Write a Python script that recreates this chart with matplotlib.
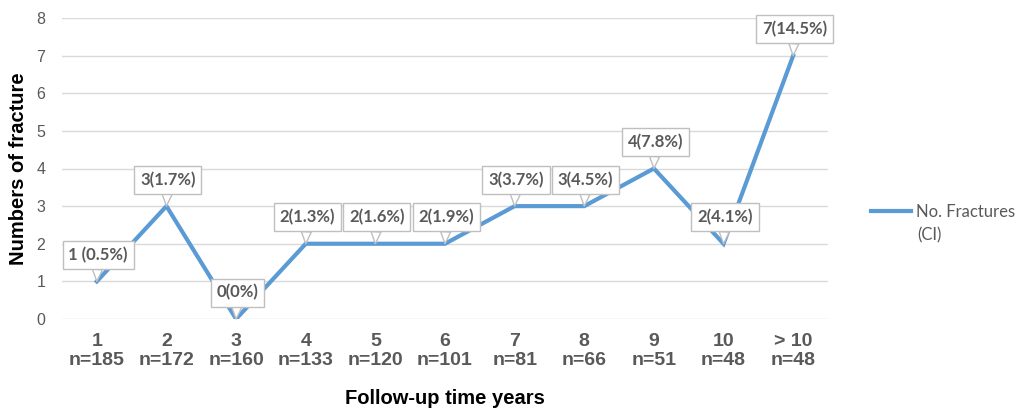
import matplotlib.pyplot as plt

years = ["1", "2", "3", "4", "5", "6", "7", "8", "9", "10", "> 10"]
n_at_risk = [185, 172, 160, 133, 120, 101, 81, 66, 51, 48, 48]
fractures = [1, 3, 0, 2, 2, 2, 3, 3, 4, 2, 7]
labels = ["1 (0.5%)", "3(1.7%)", "0(0%)", "2(1.3%)", "2(1.6%)", "2(1.9%)",
          "3(3.7%)", "3(4.5%)", "4(7.8%)", "2(4.1%)", "7(14.5%)"]

grey = "#595959"
blue = "#5b9bd5"

fig = plt.figure(figsize=(10.17, 4.08), dpi=100)
ax = fig.add_axes([62 / 1017, 1 - 319 / 408, 766 / 1017, 301 / 408])

x = list(range(len(years)))
ax.plot(x, fractures, color=blue, lw=3, solid_joinstyle="miter", label="No. Fractures", zorder=3)

for xi, yi, lab in zip(x, fractures, labels):
    ax.annotate(lab, (xi, yi), xytext=(1, 19), textcoords="offset points",
                ha="center", va="center", fontsize=12, fontweight="bold",
                family="Lato", color=grey, zorder=5,
                bbox=dict(boxstyle="square,pad=0.35", fc="white", ec="#bfbfbf", lw=1),
                arrowprops=dict(arrowstyle="wedge,tail_width=0.6,shrink_factor=0.5",
                                fc="white", ec="#bfbfbf", lw=1, shrinkA=0, shrinkB=0))

ax.set_xlim(-0.5, len(years) - 0.5)
ax.set_ylim(0, 8)
ax.set_yticks(range(9))
ax.yaxis.grid(True, color="#d9d9d9", lw=1)
ax.set_axisbelow(True)
for s in ax.spines.values():
    s.set_visible(False)
ax.tick_params(axis="both", length=0)
ax.tick_params(axis="y", labelsize=11.5, labelcolor=grey, pad=12)
ax.set_xticks(x)
ax.set_xticklabels([f"{y}\nn={n}" for y, n in zip(years, n_at_risk)],
                   fontsize=14, fontweight="bold", color=grey, family="Liberation Sans",
                   linespacing=1.2)
ax.tick_params(axis="x", pad=10)
for t in ax.get_yticklabels():
    t.set_family("Liberation Sans")

ax.set_xlabel("Follow-up time years", fontsize=14.5, fontweight="bold",
              family="Liberation Sans", labelpad=14)
ax.set_ylabel("Numbers of fracture", fontsize=14.5, fontweight="bold",
              family="Liberation Sans", labelpad=6)

leg = fig.legend(loc="center left", bbox_to_anchor=(871 / 1017, 1 - 212 / 408),
                 frameon=False, handlelength=2.4, handletextpad=0.3,
                 borderpad=0, borderaxespad=0,
                 prop=dict(family="Lato", size=12))
for t in leg.get_texts():
    t.set_color(grey)
fig.text(917 / 1017, 1 - 235 / 408, "(CI)", family="Lato", size=12,
         color=grey, va="center", ha="left")

fig.savefig("out.png", dpi=100)
